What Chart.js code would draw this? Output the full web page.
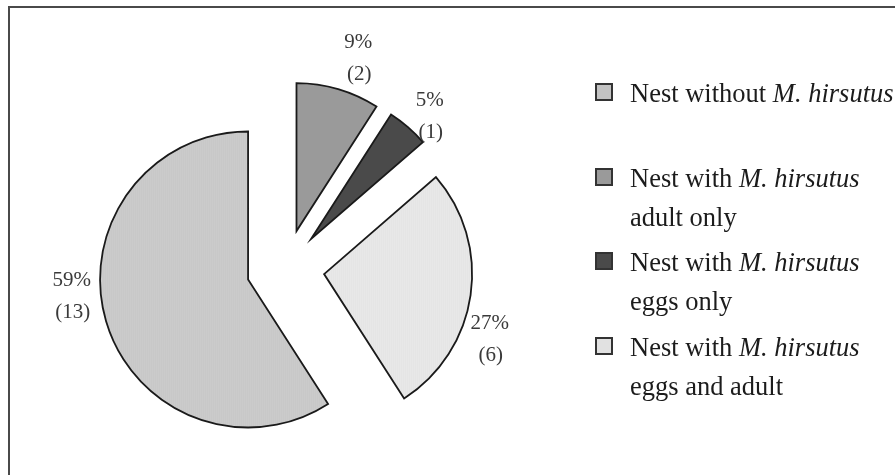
<!DOCTYPE html>
<html>
<head>
<meta charset="utf-8">
<script src="https://cdn.jsdelivr.net/npm/chart.js@4.4.1/dist/chart.umd.min.js"></script>
<style>
  html, body { margin: 0; padding: 0; background: #fff; overflow: hidden; }
  #wrap { position: relative; width: 895px; height: 475px; }
  #nests { position: absolute; left: 0; top: 0; }
  #legend { position: absolute; left: 595px; top: 74px; font-family: "Liberation Serif", "Times New Roman", serif; font-size: 26.5px; color: #1c1c1c; white-space: nowrap; }
  .item { display: flex; height: 84.5px; }
  .swatch { width: 14px; height: 14px; border: 2px solid #333; margin-top: 9px; margin-right: 17px; flex: none; }
  .text { line-height: 39px; }
</style>
</head>
<body>
<div id="wrap">
  <canvas id="nests" width="895" height="475"></canvas>
  <div id="legend"></div>
</div>
<script>
// Nest categories and the number of nests in each
const categories = [
  'Nest without M. hirsutus',
  'Nest with M. hirsutus adult only',
  'Nest with M. hirsutus eggs only',
  'Nest with M. hirsutus eggs and adult'
];
const nestCounts = [13, 2, 1, 6];

// Grey shades for the slices (two-tone pairs give the fine vertical hatching)
const sliceShades = [
  ['#c3c3c3', '#d0d0d0'],
  ['#9a9a9a', '#9a9a9a'],
  ['#4a4a4a', '#4a4a4a'],
  ['#e1e1e1', '#ececec']
];

const SPECIES = 'M. hirsutus';
const EXPLODE = 39;      // how far every slice is pulled out from the centre, px
const RADIUS = 148;

function stripes(pair) {
  if (pair[0] === pair[1]) return pair[0];
  const c = document.createElement('canvas');
  c.width = 2; c.height = 1;
  const g = c.getContext('2d');
  g.fillStyle = pair[0]; g.fillRect(0, 0, 1, 1);
  g.fillStyle = pair[1]; g.fillRect(1, 0, 1, 1);
  return g.createPattern(c, 'repeat');
}

const total = nestCounts.reduce((a, b) => a + b, 0);

// Outer frame (top and left rules)
const framePlugin = {
  id: 'frame',
  beforeDraw(chart) {
    const g = chart.ctx;
    g.save();
    g.strokeStyle = '#4a4a4a';
    g.lineWidth = 2;
    g.beginPath();
    g.moveTo(9, chart.height);
    g.lineTo(9, 7);
    g.lineTo(chart.width, 7);
    g.stroke();
    g.restore();
  }
};

// Draw every arc pulled straight out along its bisector, keeping its shape
const explodePlugin = {
  id: 'explode',
  beforeDatasetDraw(chart, args) {
    const g = chart.ctx;
    args.meta.data.forEach(arc => {
      const mid = (arc.startAngle + arc.endAngle) / 2;
      g.save();
      g.translate(Math.cos(mid) * EXPLODE, Math.sin(mid) * EXPLODE);
      arc.draw(g, chart.chartArea);
      g.restore();
    });
    return false;
  }
};

// Percentage and count labels outside each slice
const sliceLabels = {
  id: 'sliceLabels',
  afterDatasetsDraw(chart, args, opts) {
    const g = chart.ctx;
    const meta = chart.getDatasetMeta(0);
    const data = chart.data.datasets[0].data;
    g.save();
    g.font = opts.font;
    g.fillStyle = opts.color;
    g.textAlign = 'center';
    g.textBaseline = 'middle';
    meta.data.forEach((arc, i) => {
      const p = arc.getProps(['x', 'y', 'startAngle', 'endAngle', 'outerRadius'], true);
      const mid = (p.startAngle + p.endAngle) / 2;
      const cx = p.x + Math.cos(mid) * EXPLODE;
      const cy = p.y + Math.sin(mid) * EXPLODE;
      const a = mid + opts.turn[i] * Math.PI / 180;
      const d = p.outerRadius + opts.gap[i];
      const lx = cx + Math.cos(a) * d;
      const ly = cy + Math.sin(a) * d;
      const pct = Math.round(data[i] / total * 100);
      g.fillText(pct + '%', lx, ly - opts.lineGap / 2);
      g.fillText('(' + data[i] + ')', lx + 1, ly + opts.lineGap / 2);
    });
    g.restore();
  }
};

const chart = new Chart(document.getElementById('nests'), {
  type: 'pie',
  data: {
    labels: categories,
    datasets: [{
      data: nestCounts,
      backgroundColor: sliceShades.map(stripes),
      borderColor: '#1a1a1a',
      borderWidth: 1.8,
      borderJoinStyle: 'miter',
      offset: 0,
      hoverOffset: 0
    }]
  },
  options: {
    responsive: false,
    animation: false,
    events: [],
    radius: RADIUS,
    // the first category ends at twelve o'clock; the rest follow clockwise from there
    rotation: 360 * (1 - nestCounts[0] / total),
    layout: { padding: { left: 0, right: 324, top: 62, bottom: 0 } },
    plugins: {
      legend: { display: false },
      tooltip: { enabled: false },
      sliceLabels: {
        font: '21px "Liberation Serif", "Times New Roman", serif',
        color: '#3a3a3a',
        lineGap: 32,
        turn: [11, 3.4, 3.1, 13.3],
        gap: [29, 35, 23, 30]
      }
    }
  },
  plugins: [framePlugin, explodePlugin, sliceLabels]
});

// Legend beside the pie, species name in italics
const legend = document.getElementById('legend');
categories.forEach((name, i) => {
  const item = document.createElement('div');
  item.className = 'item';
  const sw = document.createElement('div');
  sw.className = 'swatch';
  sw.style.background = sliceShades[i][0];
  const txt = document.createElement('div');
  txt.className = 'text';
  const at = name.indexOf(SPECIES);
  const before = name.slice(0, at);
  const after = name.slice(at + SPECIES.length).trim();
  txt.appendChild(document.createTextNode(before));
  const em = document.createElement('i');
  em.textContent = SPECIES;
  txt.appendChild(em);
  if (after) {
    txt.appendChild(document.createElement('br'));
    txt.appendChild(document.createTextNode(after));
  }
  item.appendChild(sw);
  item.appendChild(txt);
  legend.appendChild(item);
});
</script>
</body>
</html>
